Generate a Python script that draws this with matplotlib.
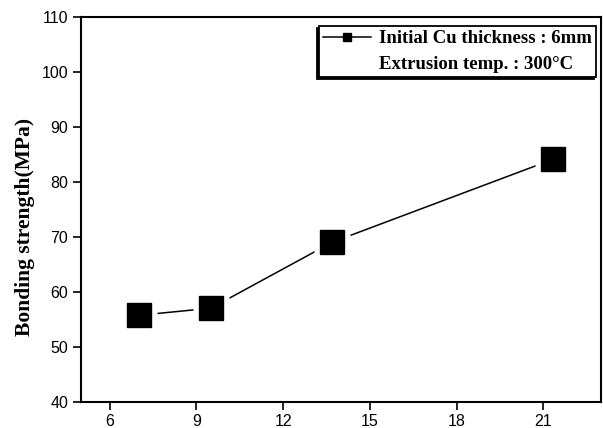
import matplotlib
matplotlib.use("Agg")
import matplotlib.pyplot as plt
from matplotlib.lines import Line2D

# data
reduction = [7.0, 9.5, 13.7, 21.35]
strength = [55.7, 57.0, 69.0, 84.1]

x_ticks = [6, 9, 12, 15, 18, 21]
y_ticks = [40, 50, 60, 70, 80, 90, 100, 110]

legend_lines = ["Initial Cu thickness : 6mm", "Extrusion temp. : 300\u00b0C"]

serif = ["Liberation Serif", "DejaVu Serif"]
sans = ["Liberation Sans", "DejaVu Sans"]

fig = plt.figure(figsize=(6.03, 4.28), dpi=100)
ax = fig.add_axes([0.134, 0.0615, 0.863, 0.8995])

# connecting line, broken around each marker by a white square
ax.plot(reduction, strength, color="black", lw=1.1, zorder=2)
ax.plot(reduction, strength, ls="none", marker="s", ms=26.5,
        mfc="white", mec="none", zorder=3)
ax.plot(reduction, strength, ls="none", marker="s", ms=16.6,
        mfc="black", mec="black", zorder=4)

ax.set_xlim(5, 23)
ax.set_ylim(40, 110)
ax.set_xticks(x_ticks)
ax.set_yticks(y_ticks)

for s in ax.spines.values():
    s.set_linewidth(1.5)
ax.tick_params(direction="out", length=6, width=1.2, labelsize=11.5, pad=3)
for lbl in ax.get_xticklabels() + ax.get_yticklabels():
    lbl.set_family(sans)

ax.set_ylabel("Bonding strength(MPa)", family=serif, fontweight="bold",
              fontsize=15.5)
ax.yaxis.set_label_coords(-0.088, 0.454)

handles = [
    Line2D([0], [0], color="black", lw=1.1, marker="s", ms=6),
    Line2D([], [], ls="none"),
]
leg = ax.legend(handles, legend_lines, loc="upper right",
                bbox_to_anchor=(0.99, 0.976), borderaxespad=0,
                prop={"family": serif, "weight": "bold", "size": 13.5},
                handlelength=2.55, handletextpad=0.45, labelspacing=0.45,
                borderpad=0.22, fancybox=False, framealpha=1,
                edgecolor="black",
                shadow={"ox": -1.5, "oy": -1.5, "color": "black", "alpha": 1})
leg.get_frame().set_linewidth(1.3)
leg.set_zorder(10)

fig.savefig("out.png", dpi=100)
